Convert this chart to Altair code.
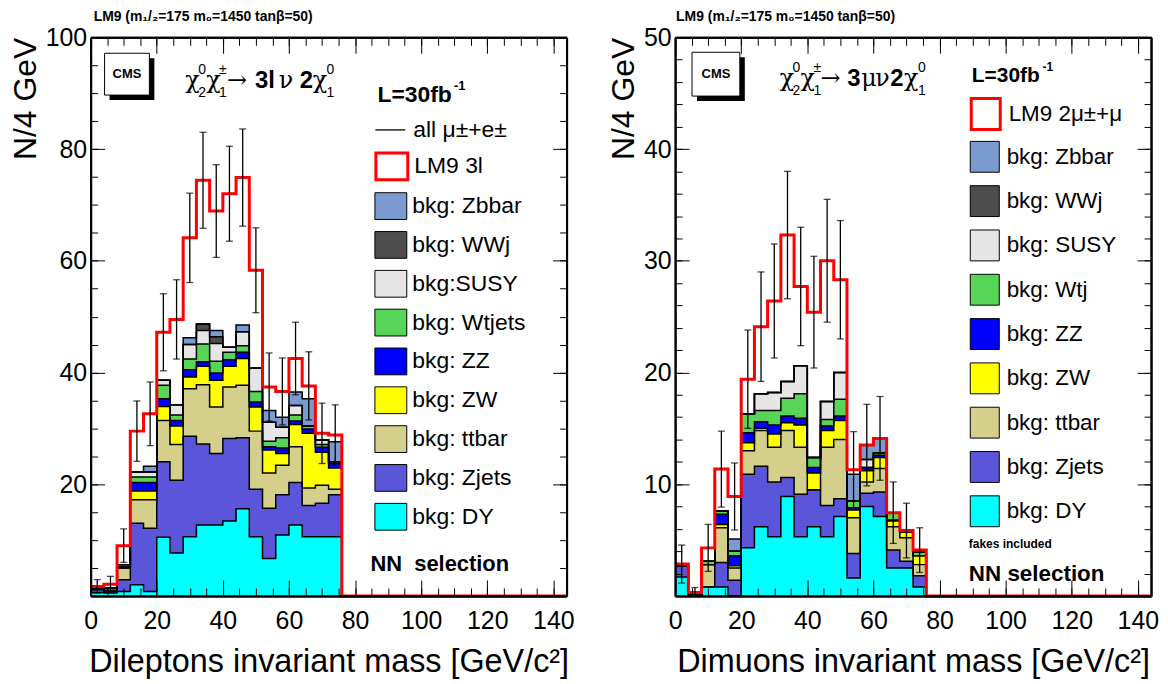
import altair as alt
import pandas as pd

FONT = "Liberation Sans"
SERIF = "DejaVu Serif"

# ---------------- data ----------------
EDGES = [0, 4, 8, 12, 16, 20, 24, 28, 32, 36, 40, 44, 48, 52, 56, 60, 64, 68, 72, 76]
RED_EDGES = [0, 4, 8, 12, 16, 20, 24, 28, 32, 36, 40, 44, 48, 52, 56, 60, 64, 68, 72,
             76, 80, 84, 88, 92, 96, 100, 104, 108, 112, 116, 120, 124, 128, 132, 136, 140, 144]

STACK_KEYS = ["DY", "Zjets", "ttbar", "ZW", "ZZ", "Wt", "SUSY", "WWj", "Zbbar"]
STACK_COLORS = ["#00ffff", "#5a55d9", "#d4cf8b", "#ffff00", "#0000ff", "#57d557",
                "#e6e6e6", "#4d4d4d", "#7b9bd0"]

LEFT_LABELS = ["bkg: DY", "bkg: Zjets", "bkg: ttbar", "bkg: ZW", "bkg: ZZ",
               "bkg: Wtjets", "bkg:SUSY", "bkg: WWj", "bkg: Zbbar"]
RIGHT_LABELS = ["bkg: DY", "bkg: Zjets", "bkg: ttbar", "bkg: ZW", "bkg: ZZ",
                "bkg: Wtj", "bkg: SUSY", "bkg: WWj", "bkg: Zbbar"]

# left panel: dileptons
DY_L = [0.6, 0.5, 0.8, 2.0, 0.8, 10.5, 7.7, 10.6, 12.7, 12.7, 13.4, 15.6, 10.6, 6.7, 10.9, 12.7, 10.6, 10.6, 10.6]
ZJ_L = [0.5, 0.3, 2.1, 11.0, 11.3, 13.5, 13.0, 18.0, 14.5, 12.8, 14.8, 12.7, 8.5, 9.0, 7.2, 7.6, 5.6, 6.0, 7.5]
TT_L = [0.1, 0.0, 2.1, 4.2, 5.1, 7.4, 6.4, 8.5, 10.6, 8.3, 9.2, 9.4, 10.4, 6.3, 5.3, 6.4, 3.1, 3.2, 1.0]
ZW_L = [0.0, 0.0, 0.0, 1.6, 1.6, 2.5, 3.3, 2.1, 3.3, 4.8, 3.7, 4.8, 4.3, 4.1, 2.1, 4.0, 9.8, 5.9, 3.8]
ZZ_L = [0.0, 0.2, 0.2, 1.5, 1.5, 1.4, 1.0, 1.3, 0.8, 1.3, 1.2, 1.1, 0.9, 0.6, 1.0, 0.6, 0.8, 0.9, 0.8]
WT_L = [0.0, 0.4, 0.4, 1.0, 1.0, 2.4, 1.0, 1.9, 3.2, 2.1, 1.3, 1.2, 1.9, 1.0, 1.8, 1.1, 0.5, 0.5, 0.3]
SU_L = [0.0, 0.0, 0.0, 0.9, 0.9, 0.9, 1.8, 2.6, 2.4, 3.2, 0.9, 2.5, 4.2, 3.4, 1.9, 1.7, 0.0, 0.8, 0.0]
WW_L = [0.0, 0.0, 0.0, 0.0, 0.0, 0.0, 0.0, 0.0, 1.2, 1.2, 0.0, 0.0, 0.0, 0.0, 0.0, 0.0, 0.0, 0.0, 0.0]
ZB_L = [0.0, 0.0, 0.0, 0.0, 1.0, 0.0, 0.0, 1.2, 0.0, 1.1, 0.0, 1.2, 0.0, 2.1, 1.8, 2.4, 4.9, 0.0, 3.6]
RED_L = [1.7, 2.1, 9.0, 29.5, 32.6, 47.2, 49.5, 64.1, 74.4, 68.9, 72.0, 74.9, 58.3, 37.4, 36.6, 42.5, 37.6, 29.1, 28.8,
         0, 0, 0, 0, 0, 0, 0, 0, 0, 0, 0, 0, 0, 0, 0, 0, 0]
ERR_L = [1.2, 1.4, 3.0, 5.4, 5.7, 6.9, 7.1, 8.0, 8.6, 8.3, 8.5, 8.7, 7.6, 6.1, 6.0, 6.5, 6.1, 5.4, 5.4]

# right panel: dimuons
DY_R = [1.7, 0.1, 0.8, 0.8, 0.0, 4.3, 6.2, 5.3, 8.9, 5.3, 6.2, 5.3, 7.1, 1.6, 8.0, 7.1, 2.5, 2.5, 0.8]
ZJ_R = [1.0, 0.0, 0.0, 2.2, 1.4, 6.6, 5.4, 4.9, 1.7, 3.8, 3.3, 2.8, 1.6, 2.2, 1.2, 2.2, 1.6, 0.6, 1.0]
TT_R = [0.0, 0.0, 2.0, 3.1, 1.1, 2.1, 3.2, 3.1, 4.2, 4.2, 0.0, 5.2, 5.3, 3.2, 1.0, 2.1, 2.1, 2.1, 1.0]
ZW_R = [0.0, 0.0, 0.0, 0.3, 0.2, 0.7, 0.2, 1.2, 0.7, 2.0, 1.5, 1.5, 1.7, 0.7, 1.0, 1.0, 0.5, 0.5, 0.8]
ZZ_R = [0.0, 0.0, 0.0, 0.9, 0.9, 0.9, 0.6, 0.8, 0.6, 0.6, 0.5, 0.4, 0.4, 0.2, 0.3, 0.2, 0.1, 0.15, 0.0]
WT_R = [0.0, 0.0, 0.3, 0.3, 0.4, 1.7, 1.0, 1.3, 1.6, 2.2, 0.9, 0.6, 1.5, 0.6, 0.0, 0.2, 0.65, 0.0, 0.3]
SU_R = [0.0, 0.0, 0.0, 0.0, 0.0, 0.0, 1.5, 1.6, 1.5, 2.5, 0.0, 1.6, 2.4, 0.0, 0.7, 0.0, 0.0, 0.0, 0.0]
WW_R = [0.0, 0.0, 0.0, 0.0, 0.0, 0.0, 0.0, 0.0, 0.0, 0.0, 0.0, 0.0, 0.0, 0.0, 0.0, 0.0, 0.0, 0.0, 0.0]
ZB_R = [0.0, 0.0, 0.0, 0.0, 1.1, 0.0, 0.0, 0.0, 0.0, 0.0, 0.0, 0.0, 0.0, 2.4, 1.3, 1.3, 0.0, 0.0, 0.0]
RED_R = [2.85, 0.3, 4.3, 11.35, 8.9, 19.4, 24.1, 26.4, 32.3, 27.7, 25.4, 30.0, 28.3, 11.3, 13.5, 14.1, 7.45, 5.85, 4.1,
         0, 0, 0, 0, 0, 0, 0, 0, 0, 0, 0, 0, 0, 0, 0, 0, 0]
ERR_R = [1.7, 0.45, 2.1, 3.4, 3.0, 4.4, 4.9, 5.1, 5.7, 5.3, 5.0, 5.5, 5.3, 3.4, 3.65, 3.75, 2.75, 2.45, 2.0]

# ---------------- layout / style ----------------
W, H = 478, 561
XMAJ = [0, 20, 40, 60, 80, 100, 120, 140]
XMIN = list(range(0, 145, 5))
LEFT_ORIGIN = (91, 37)
RIGHT_ORIGIN = (678, 37)
RECT_L = "M-1,-0.84H1V0.84H-1Z"
RECT_R = "M-0.94,-1H0.94V1H-0.94Z"
ONE = pd.DataFrame({"a": [1]})


def tick_axis(orient, values, size, offset):
    return alt.Axis(orient=orient, values=values, ticks=True, tickSize=size, tickColor="black",
                    tickWidth=1, labels=False, domain=True, domainColor="black", domainWidth=2,
                    grid=False, title=None, offset=offset, zindex=1)


def T(s, x, y, size, weight="normal", font=FONT, align="left"):
    return dict(s=s, x=x, y=y, size=size, weight=weight, font=font, align=align)


def text_layers(items, origin):
    ox, oy = origin
    out = []
    for it in items:
        out.append(alt.Chart(ONE).mark_text(
            text=it["s"], align=it["align"], baseline="middle", font=it["font"],
            fontSize=it["size"], fontWeight=it["weight"], color="black"
        ).encode(x=alt.value(it["x"] - ox), y=alt.value(it["y"] - oy)))
    return out


def cms_box(x0, y0, x1, y1, origin):
    ox, oy = origin
    sh = alt.Chart(ONE).mark_rect(color="black").encode(
        x=alt.value(x0 + 5 - ox), x2=alt.value(x1 + 5 - ox),
        y=alt.value(y0 + 5 - oy), y2=alt.value(y1 + 5 - oy))
    bx = alt.Chart(ONE).mark_rect(fill="white", stroke="black", strokeWidth=1).encode(
        x=alt.value(x0 - ox), x2=alt.value(x1 - ox),
        y=alt.value(y0 - oy), y2=alt.value(y1 - oy))
    tx = alt.Chart(ONE).mark_text(text="CMS", font=FONT, fontSize=13, fontWeight="bold",
                                  align="center", baseline="middle", color="black").encode(
        x=alt.value((x0 + x1) / 2 - ox), y=alt.value((y0 + y1) / 2 - oy))
    return [sh, bx, tx]


def legend(x, y, shape, size, sw, offset, fs, rowpad=0, fill=None, strokecol=None):
    kw = dict(orient="none", legendX=x, legendY=y, direction="vertical", title=None,
              symbolType=shape, symbolSize=size, symbolStrokeWidth=sw, symbolOpacity=1,
              labelFont=FONT, labelFontSize=fs, labelColor="black", labelOffset=offset,
              labelLimit=400, rowPadding=rowpad, padding=0)
    if fill:
        kw["symbolFillColor"] = fill
    if strokecol:
        kw["symbolStrokeColor"] = strokecol
    return alt.Legend(**kw)


def panel(comps, labels, red, err, ymax, ymaj, ymin, xtitle, lm9_label, all_label,
          leg, texts, cms, origin):
    nb = len(comps[0])
    xs = alt.Scale(domain=[0, 144], nice=False, zero=False)
    ys = alt.Scale(domain=[0, ymax], nice=False, zero=True)

    area_rows, line_rows = [], []
    base = [0.0] * nb
    for j, vals in enumerate(comps):
        top = [base[k] + vals[k] for k in range(nb)]
        for k in range(nb):
            area_rows.append(dict(comp=labels[j], x=EDGES[k], top=top[k], bot=base[k]))
            line_rows.append(dict(comp=labels[j], x=EDGES[k], c=top[k]))
        area_rows.append(dict(comp=labels[j], x=EDGES[nb], top=top[nb - 1], bot=base[nb - 1]))
        line_rows.append(dict(comp=labels[j], x=EDGES[nb], c=0.0))
        base = top
    area_df = pd.DataFrame(area_rows)
    line_df = pd.DataFrame(line_rows)

    red_df = pd.DataFrame({"x": RED_EDGES, "r": red + [0.0], "lab": lm9_label})
    err_df = pd.DataFrame({
        "xc": [(EDGES[k] + EDGES[k + 1]) / 2 for k in range(nb)],
        "lo": [max(red[k] - err[k], 0.0) for k in range(nb)],
        "hi": [red[k] + err[k] for k in range(nb)],
        "lab": all_label if all_label else "all",
    })
    cap_df = pd.concat([
        err_df[["xc", "lo"]].rename(columns={"lo": "yv"}),
        err_df[["xc", "hi"]].rename(columns={"hi": "yv"}),
    ])

    leg_order = list(reversed(labels))
    leg_colors = list(reversed(STACK_COLORS))

    areas = alt.Chart(area_df).mark_area(interpolate="step-after", strokeWidth=0).encode(
        x=alt.X("x:Q", scale=xs, axis=alt.Axis(
            orient="bottom", values=XMAJ, ticks=False, domain=False, grid=False,
            labelFont=FONT, labelFontSize=25, labelColor="black", labelPadding=13,
            labelFlush=False, labelOverlap=False, title=xtitle, titleFont=FONT,
            titleFontSize=32.5, titleFontWeight="normal", titleColor="black", titlePadding=12)),
        y=alt.Y("top:Q", scale=ys, stack=None, axis=alt.Axis(
            orient="left", values=ymaj[1:], ticks=False, domain=False, grid=False,
            labelFont=FONT, labelFontSize=25, labelColor="black", labelPadding=4,
            labelOverlap=False, title="N/4 GeV", titleFont=FONT, titleFontSize=32,
            titleFontWeight="normal", titleColor="black", titleAnchor="end", titlePadding=3)),
        y2="bot:Q",
        fill=alt.Fill("comp:N", scale=alt.Scale(domain=leg_order, range=leg_colors),
                      legend=legend(leg["x"], leg["bkg_y"], leg["shape"], leg["size"], 1,
                                    leg["off"], leg["fs"], rowpad=leg["rowpad"], strokecol="black")),
    )

    outlines = alt.Chart(line_df).mark_line(interpolate="step-after", color="black",
                                            strokeWidth=1.5, strokeJoin="miter").encode(
        x=alt.X("x:Q", scale=xs, axis=tick_axis("top", XMAJ, 16, -H)),
        y=alt.Y("c:Q", scale=ys, axis=tick_axis("right", ymaj, 14, -W)),
        detail="comp:N",
    )

    redline = alt.Chart(red_df).mark_line(interpolate="step-after", strokeWidth=3,
                                          strokeJoin="miter").encode(
        x=alt.X("x:Q", scale=xs, axis=tick_axis("top", XMIN, 8, -H)),
        y=alt.Y("r:Q", scale=ys, axis=tick_axis("right", ymin, 7, -W)),
        stroke=alt.Stroke("lab:N", scale=alt.Scale(domain=[lm9_label], range=["#ff0000"]),
                          legend=legend(leg["x"], leg["lm9_y"], leg["shape"], leg["size"], 3,
                                        leg["off"], leg["fs"], fill="white")),
    )

    enc = dict(
        x=alt.X("xc:Q", scale=xs, axis=tick_axis("bottom", XMAJ, 16, -H)),
        y=alt.Y("lo:Q", scale=ys, axis=tick_axis("left", ymaj, 14, -W)),
        y2="hi:Q",
    )
    if all_label:
        enc["color"] = alt.Color("lab:N", scale=alt.Scale(domain=[all_label], range=["black"]),
                                 legend=legend(leg["x"], leg["all_y"], "stroke", 900, 1.3,
                                               leg["off"] + 2, leg["fs"]))
        errbars = alt.Chart(err_df).mark_rule(strokeWidth=1.3).encode(**enc)
    else:
        errbars = alt.Chart(err_df).mark_rule(strokeWidth=1.3, color="black").encode(**enc)

    caps = alt.Chart(cap_df).mark_tick(orient="horizontal", size=7, thickness=1.3,
                                       color="black").encode(
        x=alt.X("xc:Q", scale=xs, axis=tick_axis("bottom", XMIN, 8, -H)),
        y=alt.Y("yv:Q", scale=ys, axis=tick_axis("left", ymin, 7, -W)),
    )

    layers = [areas, outlines, redline, errbars, caps]
    layers += cms_box(*cms, origin)
    layers += text_layers(texts, origin)
    return alt.layer(*layers).resolve_axis(x="independent", y="independent").properties(
        width=W, height=H)


LEFT_TEXTS = [
    T("LM9 (m\u2081/\u2082=175 m\u2080=1450 tan\u03b2=50)", 94, 17, 14, "bold"),
    T("\u03c7", 186, 81, 24, font=SERIF), T("0", 199, 70, 14), T("2", 199, 93, 14),
    T("\u03c7", 207, 81, 24, font=SERIF), T("\u00b1", 220, 70, 14), T("1", 220, 93, 14),
    T("\u2192", 228, 81, 24, font=SERIF),
    T("3l", 256, 81, 24, "bold"),
    T("\u03bd", 280, 81, 24, font=SERIF),
    T("2", 301, 81, 24, "bold"),
    T("\u03c7", 314, 81, 24, font=SERIF), T("0", 328, 70, 14), T("1", 328, 93, 14),
    T("L=30fb", 379, 95, 23, "bold"), T("-1", 456, 86, 13, "bold"),
    T("NN\u00a0 selection", 372, 566, 22, "bold"),
]
RIGHT_TEXTS = [
    T("LM9 (m\u2081/\u2082=175 m\u2080=1450 tan\u03b2=50)", 679, 17, 14, "bold"),
    T("\u03c7", 783, 79, 24, font=SERIF), T("0", 796, 68, 14), T("2", 796, 91, 14),
    T("\u03c7", 804, 79, 24, font=SERIF), T("\u00b1", 817, 68, 14), T("1", 817, 91, 14),
    T("\u2192", 824, 79, 24, font=SERIF),
    T("3", 851, 79, 24, "bold"),
    T("\u03bc", 865, 79, 24, font=SERIF),
    T("\u03bd", 879, 79, 24, font=SERIF),
    T("2", 894, 79, 24, "bold"),
    T("\u03c7", 908, 79, 24, font=SERIF), T("0", 922, 68, 14), T("1", 922, 91, 14),
    T("L=30fb", 976, 76, 21, "bold"), T("-1", 1047, 67, 12, "bold"),
    T("fakes included", 973, 546, 12, "bold"),
    T("NN selection", 973, 576, 22.5, "bold"),
]

left = panel([DY_L, ZJ_L, TT_L, ZW_L, ZZ_L, WT_L, SU_L, WW_L, ZB_L], LEFT_LABELS,
             RED_L, ERR_L, 100, [0, 20, 40, 60, 80, 100], list(range(0, 101, 5)),
             "Dileptons invariant mass [GeV/c\u00b2]", "LM9 3l", "all \u03bc\u00b1+e\u00b1",
             dict(x=285, all_y=77, lm9_y=112, bkg_y=153, shape=RECT_L, size=1024,
                  off=5, fs=23, rowpad=7),
             LEFT_TEXTS, (105, 53, 150, 95), LEFT_ORIGIN)

right = panel([DY_R, ZJ_R, TT_R, ZW_R, ZZ_R, WT_R, SU_R, WW_R, ZB_R], RIGHT_LABELS,
              RED_R, ERR_R, 50, [0, 10, 20, 30, 40, 50], list(range(0, 51, 2)),
              "Dimuons invariant mass [GeV/c\u00b2]", "LM9 2\u03bc\u00b1+\u03bc", None,
              dict(x=295, all_y=0, lm9_y=60, bkg_y=104, shape=RECT_R, size=961,
                   off=6, fs=22.5, rowpad=8.5),
              RIGHT_TEXTS, (695, 52, 743, 96), RIGHT_ORIGIN)

chart = alt.hconcat(left, right, spacing=31).resolve_scale(
    fill="independent", stroke="independent", color="independent"
).resolve_legend(
    fill="independent", stroke="independent", color="independent"
).properties(
    padding={"left": 0, "top": 0, "right": 0, "bottom": 0}
).configure_view(stroke="black", strokeWidth=2).configure(background="white")

chart.save("out.html", embed_options={"renderer": "svg", "actions": False})
